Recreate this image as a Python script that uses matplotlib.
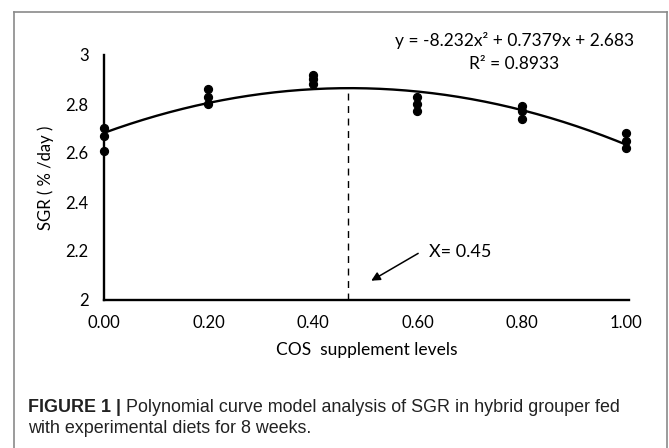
import numpy as np
import matplotlib
matplotlib.use("Agg")
import matplotlib.pyplot as plt
from matplotlib.lines import Line2D

# COS supplement levels and SGR replicates
levels = [0.0, 0.2, 0.4, 0.6, 0.8, 1.0]
sgr_reps = [
    [2.70, 2.67, 2.61],
    [2.86, 2.83, 2.80],
    [2.92, 2.90, 2.88],
    [2.83, 2.80, 2.77],
    [2.79, 2.77, 2.74],
    [2.68, 2.65, 2.62],
]
x_opt = 0.467
eq_text = "y = -8.232x\u00b2 + 0.7379x + 2.683"
r2_text = "R\u00b2 = 0.8933"
xticks = [0.0, 0.2, 0.4, 0.6, 0.8, 1.0]
yticks = [2.0, 2.2, 2.4, 2.6, 2.8, 3.0]

plt.rcParams['font.family'] = ['Lato', 'DejaVu Sans']

fig = plt.figure(figsize=(6.69, 4.48), dpi=100)
ax = fig.add_axes([104 / 669, 1 - 300 / 448, 525 / 669, 245 / 448])

xs = np.repeat(levels, [len(r) for r in sgr_reps])
ys = np.concatenate(sgr_reps)
ax.scatter(xs, ys, s=32, color='black', zorder=3, clip_on=False)

# second order trend line fitted to the points
coef = np.polyfit(xs, ys, 2)
xx = np.linspace(0, 1, 200)
ax.plot(xx, np.polyval(coef, xx), color='black', lw=1.7, zorder=2)

ax.plot([x_opt, x_opt], [2.0, np.polyval(coef, x_opt)], color='black',
        lw=1.0, ls=(0, (5, 4)))

ax.annotate("", xy=(0.507, 2.073), xytext=(0.606, 2.196),
            arrowprops=dict(arrowstyle='-|>', color='black', lw=1.1,
                            mutation_scale=13))
ax.text(0.623, 2.196, "X= 0.45", fontsize=13, va='center', ha='left')

ax.text(0.786, 3.061, eq_text, fontsize=12.5, ha='center', va='center',
        clip_on=False)
ax.text(0.786, 2.963, r2_text, fontsize=12.5, ha='center', va='center',
        clip_on=False)

ax.set_xlim(0, 1.005)
ax.set_ylim(2, 3)
ax.set_xticks(xticks)
ax.set_xticklabels([f"{v:.2f}" for v in xticks])
ax.set_yticks(yticks)
ax.set_yticklabels([f"{v:g}" for v in yticks])
ax.tick_params(length=0, labelsize=12, colors='black')
ax.tick_params(axis='y', pad=11)
ax.tick_params(axis='x', pad=11)
for side in ['top', 'right']:
    ax.spines[side].set_visible(False)
for side in ['left', 'bottom']:
    ax.spines[side].set_linewidth(1.7)
ax.set_ylabel("SGR ( % /day )", fontsize=12, labelpad=8)
ax.set_xlabel("COS  supplement levels", fontsize=12.5, labelpad=8)

# frame around the figure panel
frame = dict(color='#8a8a8a', lw=1.2, transform=fig.transFigure)
fig.add_artist(Line2D([14 / 669, 14 / 669], [0, 1 - 12 / 448], **frame))
fig.add_artist(Line2D([14 / 669, 667 / 669], [1 - 12 / 448, 1 - 12 / 448], **frame))
fig.add_artist(Line2D([667 / 669, 667 / 669], [0, 1 - 12 / 448], **frame))

cap_font = ['Liberation Sans Narrow', 'Liberation Sans', 'DejaVu Sans']
bold = fig.text(28 / 669, 1 - 407 / 448, "FIGURE 1 |", fontsize=12.9,
                fontweight='bold', family=cap_font, va='center', color='#222222')
ax.annotate(" Polynomial curve model analysis of SGR in hybrid grouper fed",
            xy=(1, 0.5), xycoords=bold, va='center', ha='left',
            fontsize=12.9, family=cap_font, color='#222222')
fig.text(28 / 669, 1 - 428 / 448, "with experimental diets for 8 weeks.",
         fontsize=12.9, family=cap_font, va='center', color='#222222')

fig.savefig("out.png", dpi=100)
